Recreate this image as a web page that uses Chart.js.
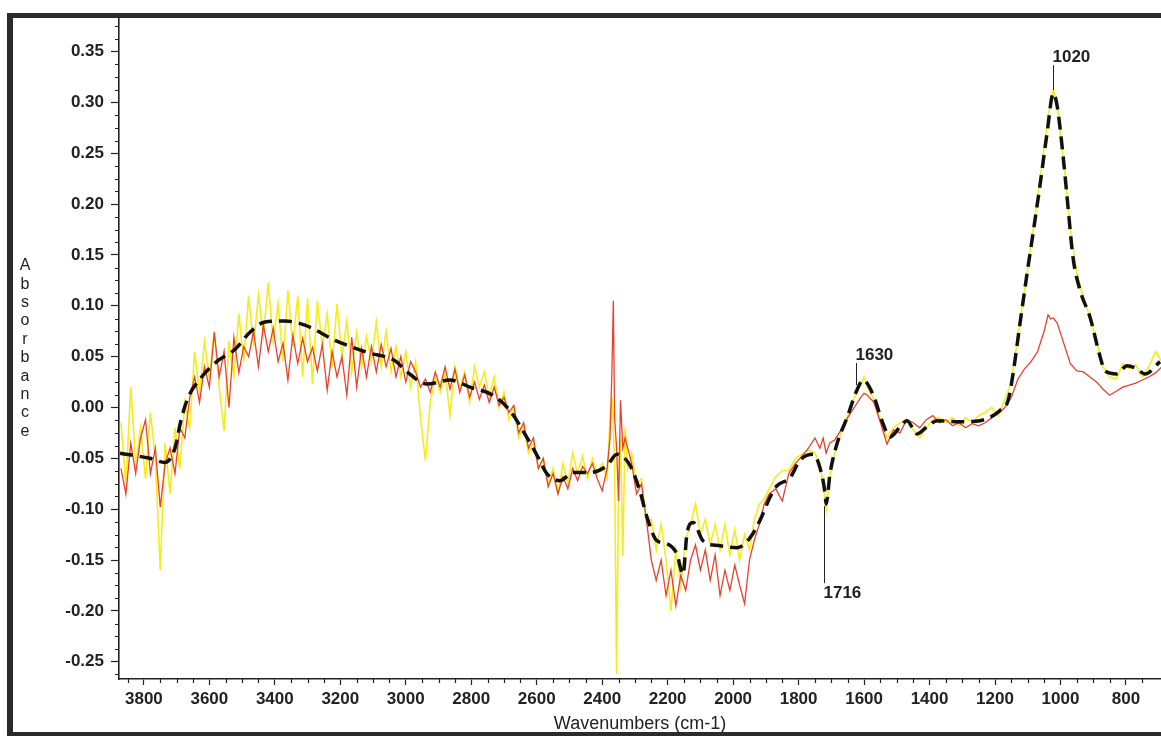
<!DOCTYPE html>
<html>
<head>
<meta charset="utf-8">
<title>IR spectrum</title>
<script src="https://cdn.jsdelivr.net/npm/chart.js@4.4.1/dist/chart.umd.min.js"></script>
<style>
  html, body { margin: 0; padding: 0; background: #fff; }
  body { width: 1161px; height: 736px; overflow: hidden; position: relative; }
  #frame {
    position: absolute; left: 7px; top: 13px; width: 1200px; height: 723px;
    box-sizing: border-box;
    border-top: 5px solid #2b2b2b; border-left: 6px solid #2b2b2b; border-bottom: 4px solid #2b2b2b;
  }
  #spectrum { position: absolute; left: 0; top: 0; }
</style>
</head>
<body>
<div id="frame"></div>
<canvas id="spectrum" width="1161" height="736"></canvas>
<script>
// axis ticks
const xTicks = [3800, 3600, 3400, 3200, 3000, 2800, 2600, 2400, 2200, 2000, 1800, 1600, 1400, 1200, 1000, 800];
const yTicks = [-0.25, -0.20, -0.15, -0.10, -0.05, 0.00, 0.05, 0.10, 0.15, 0.20, 0.25, 0.30, 0.35];

// wavenumbers for the two noisy spectra
const wnNoisy = [
  3870, 3855, 3840, 3825, 3810, 3795, 3780, 3765, 3750, 3735,
  3720, 3705, 3690, 3675, 3660, 3645, 3630, 3615, 3600, 3585,
  3570, 3555, 3540, 3525, 3510, 3495, 3480, 3465, 3450, 3435,
  3420, 3405, 3390, 3375, 3360, 3345, 3330, 3315, 3300, 3285,
  3270, 3255, 3240, 3225, 3210, 3195, 3180, 3165, 3150, 3135,
  3120, 3105, 3090, 3075, 3060, 3045, 3030, 3015, 3000, 2985,
  2970, 2955, 2940, 2925, 2910, 2895, 2880, 2865, 2850, 2835,
  2820, 2805, 2790, 2775, 2760, 2745, 2730, 2715, 2700, 2685,
  2670, 2655, 2640, 2625, 2610, 2595, 2580, 2565, 2550, 2535,
  2520, 2505, 2490, 2475, 2460, 2445, 2430, 2415, 2400, 2385,
  2376, 2370, 2366, 2362, 2356, 2350, 2344, 2337, 2330, 2322,
  2310, 2295, 2280, 2265, 2250, 2235, 2220, 2205, 2190, 2175,
  2160, 2145, 2130, 2115, 2100, 2085, 2070, 2055, 2040, 2025,
  2010, 1995, 1980, 1965, 1950, 1935, 1920, 1905,
  1890, 1870, 1850, 1830, 1810, 1790, 1770, 1750, 1735, 1725,
  1716, 1705, 1690, 1670, 1650, 1630, 1610, 1600, 1590, 1570,
  1550, 1530, 1510, 1490, 1470, 1450, 1430, 1410, 1390, 1370,
  1350, 1330, 1310, 1290, 1270, 1250, 1230, 1210, 1190, 1170,
  1150, 1130, 1110, 1090, 1070, 1050, 1038, 1030, 1022, 1010,
  990, 970, 950, 930, 910, 890, 870, 850, 830, 810,
  790, 770, 750, 730, 710, 690
];

const yellowAbs = [
  -0.015, -0.075, 0.020, -0.055, -0.020, -0.070, -0.005, -0.050, -0.160, -0.035,
  -0.085, -0.020, -0.060, 0.005, -0.020, 0.055, 0.015, 0.065, 0.030, 0.075,
  0.020, -0.023, 0.065, 0.030, 0.092, 0.045, 0.110, 0.060, 0.111, 0.070,
  0.123, 0.065, 0.102, 0.045, 0.115, 0.060, 0.110, 0.030, 0.107, 0.023,
  0.105, 0.060, 0.092, 0.040, 0.102, 0.050, 0.085, 0.035, 0.074, 0.040,
  0.070, 0.045, 0.084, 0.040, 0.075, 0.035, 0.060, 0.030, 0.055, 0.020,
  0.045, -0.010, -0.052, 0.005, 0.030, 0.015, 0.035, -0.008, 0.040, 0.018,
  0.035, 0.005, 0.040, 0.020, 0.035, 0.010, 0.030, 0.000, 0.015, -0.012,
  0.000, -0.030, -0.018, -0.045, -0.035, -0.060, -0.050, -0.075, -0.060, -0.085,
  -0.055, -0.075, -0.045, -0.065, -0.048, -0.070, -0.050, -0.065, -0.055, -0.070,
  -0.010, 0.010, -0.020, -0.060, -0.262, -0.080, -0.030, -0.146, -0.020, -0.060,
  -0.045, -0.075, -0.070, -0.115, -0.110, -0.140, -0.115, -0.150, -0.200, -0.140,
  -0.175, -0.130, -0.115, -0.095, -0.125, -0.110, -0.135, -0.115, -0.140, -0.115,
  -0.145, -0.120, -0.150, -0.125, -0.140, -0.110, -0.095, -0.090,
  -0.080, -0.068, -0.062, -0.062, -0.050, -0.046, -0.042, -0.045, -0.055, -0.075,
  -0.100, -0.070, -0.045, -0.025, -0.008, 0.010, 0.022, 0.030, 0.020, 0.008,
  -0.012, -0.030, -0.020, -0.015, -0.012, -0.022, -0.030, -0.020, -0.012, -0.010,
  -0.015, -0.010, -0.018, -0.010, -0.015, -0.008, -0.005, 0.000, -0.008, 0.008,
  0.025, 0.070, 0.115, 0.160, 0.205, 0.255, 0.285, 0.300, 0.312, 0.296,
  0.242, 0.175, 0.132, 0.108, 0.089, 0.065, 0.040, 0.030, 0.028, 0.043,
  0.038, 0.042, 0.030, 0.040, 0.055, 0.045
];

const redAbs = [
  -0.060, -0.085, -0.035, -0.065, -0.030, -0.012, -0.065, -0.040, -0.098, -0.055,
  -0.040, -0.065, -0.020, -0.030, 0.010, 0.030, 0.005, 0.040, 0.020, 0.074,
  0.030, 0.055, 0.000, 0.069, 0.034, 0.060, 0.050, 0.075, 0.040, 0.081,
  0.055, 0.078, 0.045, 0.063, 0.027, 0.071, 0.043, 0.068, 0.045, 0.059,
  0.036, 0.062, 0.017, 0.055, 0.030, 0.050, 0.012, 0.069, 0.020, 0.058,
  0.030, 0.060, 0.035, 0.062, 0.040, 0.058, 0.030, 0.050, 0.025, 0.045,
  0.035, 0.020, 0.028, 0.015, 0.035, 0.020, 0.040, 0.018, 0.038, 0.015,
  0.032, 0.010, 0.025, 0.008, 0.022, 0.005, 0.020, 0.002, 0.010, -0.005,
  0.002, -0.025, -0.015, -0.040, -0.030, -0.060, -0.050, -0.078, -0.065, -0.085,
  -0.068, -0.080, -0.060, -0.072, -0.058, -0.065, -0.055, -0.070, -0.082, -0.060,
  -0.030, 0.040, 0.105, -0.010, -0.040, -0.092, 0.007, -0.040, -0.030, -0.040,
  -0.055, -0.085, -0.075, -0.110, -0.150, -0.170, -0.150, -0.185, -0.160, -0.195,
  -0.165, -0.180, -0.150, -0.135, -0.160, -0.140, -0.170, -0.145, -0.185, -0.160,
  -0.180, -0.155, -0.175, -0.193, -0.150, -0.130, -0.115, -0.095,
  -0.085, -0.080, -0.092, -0.065, -0.055, -0.048, -0.040, -0.030, -0.040, -0.030,
  -0.045, -0.035, -0.032, -0.022, -0.010, 0.000, 0.010, 0.014, 0.012, 0.005,
  -0.015, -0.036, -0.022, -0.025, -0.012, -0.015, -0.020, -0.012, -0.008, -0.015,
  -0.012, -0.018, -0.015, -0.020, -0.016, -0.018, -0.015, -0.010, -0.006, 0.000,
  0.010, 0.028, 0.038, 0.045, 0.055, 0.075, 0.091, 0.087, 0.088, 0.083,
  0.063, 0.043, 0.036, 0.035, 0.030, 0.025, 0.018, 0.012, 0.016, 0.020,
  0.022, 0.024, 0.027, 0.030, 0.034, 0.040
];

// smoothed (dashed) spectrum
const wnDashed = [
  3873, 3782, 3736, 3705, 3687, 3666, 3626, 3574, 3522, 3476,
  3430, 3369, 3308, 3216, 3116, 3033, 2996, 2935, 2865, 2804,
  2734, 2682, 2642, 2599, 2569, 2529, 2489, 2437, 2385, 2355,
  2315, 2285, 2263, 2233, 2202, 2172, 2153, 2141, 2122, 2092,
  2040, 1988, 1948, 1918, 1887, 1866, 1826, 1796, 1756, 1735,
  1719, 1716, 1704, 1683, 1652, 1622, 1603, 1573, 1542, 1521,
  1490, 1469, 1438, 1408, 1377, 1307, 1246, 1185, 1160, 1145,
  1124, 1102, 1084, 1062, 1041, 1022, 1010, 992, 977, 962,
  940, 910, 879, 864, 827, 797, 766, 742, 696
];
const dashedAbs = [
  -0.045, -0.050, -0.054, -0.040, -0.013, 0.009, 0.029, 0.046, 0.057, 0.074,
  0.084, 0.085, 0.081, 0.066, 0.054, 0.046, 0.035, 0.023, 0.027, 0.020,
  0.012, -0.003, -0.023, -0.047, -0.065, -0.072, -0.064, -0.064, -0.057, -0.046,
  -0.057, -0.082, -0.108, -0.131, -0.134, -0.144, -0.164, -0.124, -0.113, -0.131,
  -0.136, -0.138, -0.128, -0.111, -0.088, -0.077, -0.069, -0.052, -0.046, -0.059,
  -0.085, -0.095, -0.065, -0.036, -0.010, 0.017, 0.027, 0.013, -0.016, -0.029,
  -0.019, -0.013, -0.026, -0.019, -0.013, -0.014, -0.013, -0.003, 0.007, 0.033,
  0.082, 0.132, 0.171, 0.220, 0.270, 0.309, 0.296, 0.247, 0.197, 0.148,
  0.115, 0.089, 0.050, 0.036, 0.033, 0.041, 0.038, 0.033, 0.045
];

// peak labels
const peakLabels = ['1020', '1630', '1716'];
const peakWn = [1022, 1626, 1722];
const peakAbs = [0.312, 0.022, -0.097];

const xMin = 693, xMax = 3876;
const yMin = -0.267, yMax = 0.383;

const ink = '#222';
const fontFamily = "'Liberation Sans', Arial, sans-serif";
const tickFont = { family: fontFamily, size: 17, weight: 'bold' };

function pts(xs, ys) {
  return xs.map((w, i) => ({ x: w, y: ys[i] }));
}

const minorTicks = {
  id: 'minorTicks',
  afterDraw(chart) {
    const { ctx, chartArea: a, scales: { x, y } } = chart;
    ctx.save();
    ctx.strokeStyle = ink;
    ctx.lineWidth = 1.2;
    ctx.beginPath();
    for (let v = 750; v <= 3850; v += 50) {
      if (v % 200 === 0) continue;
      const px = Math.round(x.getPixelForValue(v)) + 0.5;
      ctx.moveTo(px, a.bottom);
      ctx.lineTo(px, a.bottom + 4);
    }
    for (let k = -21; k <= 30; k++) {
      if (k % 4 === 0) continue;
      const py = Math.round(y.getPixelForValue(k * 0.0125)) + 0.5;
      ctx.moveTo(a.left, py);
      ctx.lineTo(a.left - 4, py);
    }
    ctx.stroke();
    ctx.restore();
  }
};

const labels = {
  id: 'labels',
  afterDraw(chart, args, opts) {
    const { ctx, chartArea: a, scales: { x, y } } = chart;
    ctx.save();
    ctx.fillStyle = ink;
    ctx.strokeStyle = ink;

    // y title, letters stacked
    ctx.font = '16px ' + fontFamily;
    ctx.textAlign = 'center';
    ctx.textBaseline = 'middle';
    const word = 'Absorbance';
    const cy = (a.top + a.bottom) / 2;
    for (let i = 0; i < word.length; i++) {
      ctx.fillText(word[i], 25, cy + (i - (word.length - 1) / 2) * 18.4);
    }

    // x title
    ctx.font = '18px ' + fontFamily;
    ctx.fillText('Wavenumbers (cm-1)', (a.left + a.right) / 2, chart.height - 12);

    // peak markers
    ctx.font = 'bold 17px ' + fontFamily;
    ctx.textAlign = 'left';
    ctx.lineWidth = 1;
    peakLabels.forEach((txt, i) => {
      const px = Math.round(x.getPixelForValue(peakWn[i])) + 0.5;
      const py = y.getPixelForValue(peakAbs[i]);
      const down = peakAbs[i] < 0;
      const len = opts.leader[i];
      const end = down ? py + len : py - len;
      ctx.beginPath();
      ctx.moveTo(px, py);
      ctx.lineTo(px, end);
      ctx.stroke();
      ctx.textBaseline = down ? 'top' : 'bottom';
      ctx.fillText(txt, px - 1, down ? end + 2 : end + 1);
    });
    ctx.restore();
  }
};

new Chart(document.getElementById('spectrum'), {
  type: 'line',
  data: {
    datasets: [
      {
        label: 'smoothed',
        data: pts(wnDashed, dashedAbs),
        borderColor: '#111',
        borderWidth: 3.5,
        borderDash: [13, 7],
        cubicInterpolationMode: 'monotone',
        pointRadius: 0
      },
      {
        label: 'red',
        data: pts(wnNoisy, redAbs),
        borderColor: '#e8412e',
        borderWidth: 1.3,
        tension: 0,
        pointRadius: 0
      },
      {
        label: 'yellow',
        data: pts(wnNoisy, yellowAbs),
        borderColor: '#f5ec1c',
        borderWidth: 1.6,
        tension: 0,
        pointRadius: 0
      }
    ]
  },
  options: {
    responsive: false,
    animation: false,
    devicePixelRatio: 1,
    layout: { padding: { top: 18, left: 0, right: 0, bottom: 0 } },
    plugins: {
      legend: { display: false },
      tooltip: { enabled: false },
      labels: { leader: [25, 22, 77] }
    },
    scales: {
      x: {
        type: 'linear',
        reverse: true,
        min: xMin,
        max: xMax,
        afterFit: s => { s.height = 57; },
        afterBuildTicks: s => { s.ticks = xTicks.map(v => ({ value: v })); },
        border: { display: true, color: ink, width: 1.6 },
        grid: { drawOnChartArea: false, drawTicks: true, tickLength: 6, color: ink, tickWidth: 1.2 },
        ticks: {
          autoSkip: false, maxRotation: 0, padding: 4, color: ink, font: tickFont,
          callback: v => String(v)
        }
      },
      y: {
        type: 'linear',
        min: yMin,
        max: yMax,
        afterFit: s => { s.width = 119; },
        afterBuildTicks: s => { s.ticks = yTicks.map(v => ({ value: v })); },
        border: { display: true, color: ink, width: 1.6 },
        grid: { drawOnChartArea: false, drawTicks: true, tickLength: 8, color: ink, tickWidth: 1.2 },
        ticks: {
          padding: 7, color: ink, font: tickFont,
          callback: v => v.toFixed(2)
        }
      }
    }
  },
  plugins: [minorTicks, labels]
});
</script>
</body>
</html>
